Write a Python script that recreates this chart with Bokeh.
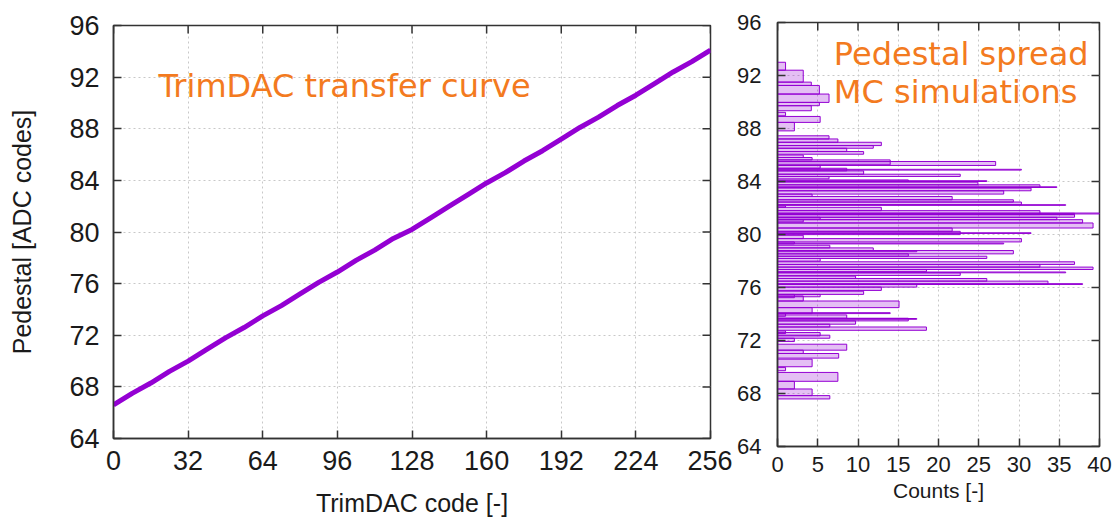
import math
from bokeh.plotting import figure
from bokeh.layouts import row, column
from bokeh.models import Label, FixedTicker, Range1d
from bokeh.embed import file_html
from bokeh.resources import INLINE

# --- TrimDAC transfer curve: pedestal vs. trim code ---
trim_codes = [0, 8, 16, 24, 32, 40, 48, 56, 64, 72, 80, 88, 96, 104, 112, 120,
              128, 136, 144, 152, 160, 168, 176, 184, 192, 200, 208, 216, 224,
              232, 240, 248, 256]
pedestal = [66.6, 67.5, 68.3, 69.2, 70.0, 70.9, 71.8, 72.6, 73.5, 74.3, 75.2,
            76.1, 76.9, 77.8, 78.6, 79.5, 80.2, 81.1, 82.0, 82.9, 83.8, 84.6,
            85.5, 86.3, 87.2, 88.1, 88.9, 89.8, 90.6, 91.5, 92.4, 93.2, 94.1]

# --- Pedestal spread from MC simulations (overlaid histogram bins) ---
bin_lo = [92.4, 91.5, 91.25, 90.6, 89.97, 89.72, 89.34, 88.96, 88.46, 87.82,
          87.21, 86.96, 86.71, 86.51, 86.26, 86.06, 85.81, 85.63, 85.26, 85.21,
          85.0, 84.80, 84.86, 84.55, 84.38, 84.2, 84.0, 84.0, 83.75, 83.55,
          83.55, 83.30, 83.05, 82.87, 82.62, 82.45, 82.25, 82.2, 82.05, 81.80,
          81.50, 81.5, 81.55,
          81.30, 81.12, 81.15, 80.87, 80.95, 80.49, 80.24, 79.99, 80.08, 79.69,
          79.44, 79.29, 79.29, 78.99, 78.79, 78.54, 78.70, 78.36, 78.19, 77.99,
          77.74, 77.54, 77.36, 77.19, 77.11, 76.91, 76.68, 76.48, 76.23, 76.23,
          76.03, 75.78, 75.48,
          75.23, 75.30, 74.98, 74.48, 74.03, 74.03, 73.83, 73.68, 73.48, 73.60,
          73.23, 73.02, 72.77, 72.52, 72.35, 72.17, 71.92, 71.27, 71.02, 70.67,
          70.02, 69.72, 68.92, 68.34, 67.84, 67.59]
bin_hi = [93.0, 92.4, 91.5, 91.25, 90.6, 89.97, 89.72, 89.22, 88.91, 88.46,
          87.45, 87.21, 86.96, 86.71, 86.51, 86.26, 86.00, 85.81, 85.63, 85.51,
          85.21, 85.0, 84.92, 84.80, 84.55, 84.38, 84.12, 84.06, 83.95, 83.75,
          83.60, 83.50, 83.30, 83.05, 82.87, 82.62, 82.45, 82.25, 82.15, 82.05,
          81.80, 81.60, 81.62,
          81.50, 81.30, 81.30, 81.12, 81.12, 80.87, 80.49, 80.24, 80.13, 79.94,
          79.69, 79.44, 79.35, 79.19, 78.99, 78.79, 78.79, 78.54, 78.36, 78.19,
          77.94, 77.74, 77.54, 77.36, 77.17, 77.11, 76.86, 76.68, 76.48, 76.29,
          76.23, 76.03, 75.72,
          75.48, 75.48, 75.36, 74.98, 74.48, 74.10, 74.03, 73.93, 73.68, 73.66,
          73.48, 73.23, 73.02, 72.72, 72.60, 72.40, 72.17, 71.72, 71.27, 71.02,
          70.59, 69.97, 69.59, 68.92, 68.34, 67.84]
counts = [1.0, 3.2, 4.2, 5.2, 6.4, 5.2, 4.2, 1.0, 5.3, 2.1,
          6.4, 7.5, 12.9, 11.9, 8.6, 10.7, 3.2, 4.3, 14.0, 27.1,
          5.3, 8.6, 30.3, 10.7, 22.7, 6.4, 16.25, 26.0, 24.9, 32.6,
          34.7, 31.5, 28.1, 4.3, 21.7, 29.3, 30.3, 35.8, 1.0, 12.9,
          32.6, 36.9, 40.0,
          36.9, 34.7, 5.3, 37.9, 3.2, 39.2, 21.7, 22.7, 31.5, 3.2,
          30.3, 2.1, 28.1, 6.5, 11.9, 29.3, 17.3, 16.25, 26.0, 5.3,
          36.9, 32.6, 39.2, 18.5, 35.8, 22.7, 9.7, 26.0, 33.6, 37.9,
          17.3, 12.9, 10.7,
          2.1, 5.3, 3.2, 15.1, 4.3, 14.0, 1.0, 8.6, 16.25, 17.3,
          9.7, 6.5, 18.5, 1.0, 5.3, 6.5, 2.1, 8.6, 3.2, 7.6,
          4.3, 1.0, 7.5, 2.1, 4.3, 6.5]

trim_ticks = [0, 32, 64, 96, 128, 160, 192, 224, 256]
pedestal_ticks = [64, 68, 72, 76, 80, 84, 88, 92, 96]
count_ticks = [0, 5, 10, 15, 20, 25, 30, 35, 40]

PURPLE = "#9400d3"
ORANGE = "#f37a20"
FRAME = "#333333"
TICK_FONT = "Liberation Sans"


def style_axis(ax, size, label_size, label_standoff, axis_standoff):
    ax.major_tick_in = 8
    ax.major_tick_out = 0
    ax.minor_tick_in = 0
    ax.minor_tick_out = 0
    ax.axis_line_color = FRAME
    ax.axis_line_width = 1.5
    ax.major_tick_line_color = FRAME
    ax.major_tick_line_width = 1.5
    ax.major_label_text_font = TICK_FONT
    ax.major_label_text_font_size = size
    ax.major_label_text_color = "#1a1a1a"
    ax.major_label_standoff = label_standoff
    ax.axis_label_text_font = TICK_FONT
    ax.axis_label_text_font_style = "normal"
    ax.axis_label_text_font_size = label_size
    ax.axis_label_text_color = "#1a1a1a"
    ax.axis_label_standoff = axis_standoff


def mirror_ticks(p, xticks, yticks):
    # inward tick marks on the right and top edges (the frame clips the outer half)
    x_end = p.x_range.end
    y_end = p.y_range.end
    p.scatter(x=[x_end] * len(yticks), y=yticks, marker="dash", size=16,
              line_color=FRAME, line_width=1.5)
    p.scatter(x=xticks, y=[y_end] * len(xticks), marker="dash", size=16,
              angle=math.pi / 2, line_color=FRAME, line_width=1.5)


def style_frame(p):
    p.outline_line_color = FRAME
    p.outline_line_width = 1.5
    p.background_fill_color = "white"
    p.border_fill_color = "white"
    for g in (p.xgrid, p.ygrid):
        g.grid_line_color = "#c8c8c8"
        g.grid_line_dash = "2 3"
        g.grid_line_width = 1


# Left panel: transfer curve
p1 = figure(frame_width=597, frame_height=413, title=None,
            x_range=Range1d(0, 256), y_range=Range1d(64, 96),
            output_backend="svg", toolbar_location=None,
            min_border_left=113, min_border_right=22,
            min_border_top=25, min_border_bottom=79)
p1.xaxis.ticker = FixedTicker(ticks=trim_ticks)
p1.yaxis.ticker = FixedTicker(ticks=pedestal_ticks)
p1.xaxis.axis_label = "TrimDAC code [-]"
p1.yaxis.axis_label = "Pedestal [ADC codes]"
style_axis(p1.xaxis[0], "27px", "25px", 12, 16)
style_axis(p1.yaxis[0], "27px", "25px", 14, 30)
style_frame(p1)

p1.line(trim_codes, pedestal, line_width=5, line_color=PURPLE)
mirror_ticks(p1, trim_ticks, pedestal_ticks)

p1.add_layout(Label(x=19.3, y=91.3, text="TrimDAC transfer curve",
                    text_font="DejaVu Sans", text_font_size="32px",
                    text_color=ORANGE, text_baseline="alphabetic"))

# Right panel: histogram of simulated pedestals
p2 = figure(frame_width=322, frame_height=424, title=None,
            x_range=Range1d(0, 40), y_range=Range1d(64, 96),
            output_backend="svg", toolbar_location=None,
            min_border_left=45, min_border_right=13,
            min_border_top=22, min_border_bottom=71)
p2.xaxis.ticker = FixedTicker(ticks=count_ticks)
p2.yaxis.ticker = FixedTicker(ticks=pedestal_ticks)
p2.xaxis.axis_label = "Counts [-]"
style_axis(p2.xaxis[0], "22px", "21px", 10, 4)
style_axis(p2.yaxis[0], "22px", "21px", 16, 4)
style_frame(p2)

p2.quad(left=0, right=counts, bottom=bin_lo, top=bin_hi,
        fill_color=PURPLE, fill_alpha=0.25, line_color=PURPLE, line_width=1)
mirror_ticks(p2, count_ticks, pedestal_ticks)

for yy, txt in ((93.65, "Pedestal spread"), (90.75, "MC simulations")):
    p2.add_layout(Label(x=7.0, y=yy, text=txt, text_font="DejaVu Sans",
                        text_font_size="32px", text_color=ORANGE,
                        text_baseline="alphabetic"))

layout = row(column(p1), column(p2), spacing=0)
open("out.html", "w").write(file_html(layout, INLINE))
